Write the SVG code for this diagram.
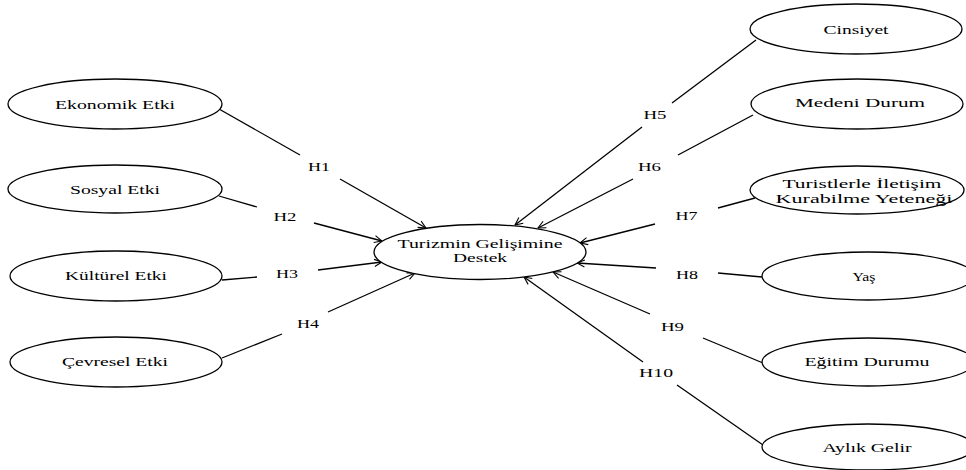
<svg xmlns="http://www.w3.org/2000/svg" width="966" height="470" viewBox="0 0 966 470">
<style>
.n{fill:#fff;stroke:#000;stroke-width:1.3}
.t{font-family:"Liberation Serif","Times New Roman",serif;font-size:13.5px;fill:#000;text-anchor:middle}
.c{stroke:#000;stroke-width:1.3;fill:none}
</style>
<defs>
<marker id="arr" viewBox="0 0 10 10" refX="9.5" refY="5" markerWidth="9" markerHeight="9" orient="auto" markerUnits="userSpaceOnUse">
<path d="M1,1 L9.5,5 L1,9" fill="none" stroke="#000" stroke-width="1.2"/>
</marker>
</defs>
<g id="connectors">
<line class="c" x1="219" y1="109" x2="300" y2="155"/>
<line class="c" x1="340" y1="179" x2="426" y2="228" marker-end="url(#arr)"/>
<line class="c" x1="219" y1="196" x2="257" y2="207"/>
<line class="c" x1="314" y1="223" x2="382" y2="241" marker-end="url(#arr)"/>
<line class="c" x1="222" y1="280" x2="257" y2="277"/>
<line class="c" x1="318" y1="270" x2="382" y2="262" marker-end="url(#arr)"/>
<line class="c" x1="222" y1="358" x2="282" y2="334"/>
<line class="c" x1="328" y1="312" x2="415" y2="273" marker-end="url(#arr)"/>
<line class="c" x1="756" y1="40" x2="672" y2="103"/>
<line class="c" x1="642" y1="127" x2="515" y2="225" marker-end="url(#arr)"/>
<line class="c" x1="753" y1="115" x2="678" y2="155"/>
<line class="c" x1="633" y1="179" x2="538" y2="228" marker-end="url(#arr)"/>
<line class="c" x1="755" y1="198" x2="718" y2="208"/>
<line class="c" x1="655" y1="224" x2="580" y2="243" marker-end="url(#arr)"/>
<line class="c" x1="762" y1="277" x2="718" y2="273"/>
<line class="c" x1="656" y1="268" x2="577" y2="263" marker-end="url(#arr)"/>
<line class="c" x1="763" y1="363" x2="703" y2="338"/>
<line class="c" x1="650" y1="314" x2="553" y2="272" marker-end="url(#arr)"/>
<line class="c" x1="763" y1="445" x2="677" y2="385"/>
<line class="c" x1="643" y1="362" x2="524" y2="277" marker-end="url(#arr)"/>
<text class="t" x="319" y="171" textLength="22" lengthAdjust="spacingAndGlyphs">H1</text>
<text class="t" x="285" y="221" textLength="23" lengthAdjust="spacingAndGlyphs">H2</text>
<text class="t" x="287" y="278" textLength="22" lengthAdjust="spacingAndGlyphs">H3</text>
<text class="t" x="308" y="328" textLength="22" lengthAdjust="spacingAndGlyphs">H4</text>
<text class="t" x="655" y="119" textLength="23" lengthAdjust="spacingAndGlyphs">H5</text>
<text class="t" x="649.5" y="171" textLength="23" lengthAdjust="spacingAndGlyphs">H6</text>
<text class="t" x="686.5" y="220" textLength="22" lengthAdjust="spacingAndGlyphs">H7</text>
<text class="t" x="687" y="279" textLength="22" lengthAdjust="spacingAndGlyphs">H8</text>
<text class="t" x="672.5" y="331" textLength="23" lengthAdjust="spacingAndGlyphs">H9</text>
<text class="t" x="656" y="377" textLength="34" lengthAdjust="spacingAndGlyphs">H10</text>
</g>
<g id="center">
<ellipse class="n" cx="480" cy="252" rx="106" ry="27.5"/>
<text class="t" x="480" y="248" textLength="165" lengthAdjust="spacingAndGlyphs">Turizmin Gelişimine</text>
<text class="t" x="480" y="262" textLength="54" lengthAdjust="spacingAndGlyphs">Destek</text>
</g>
<g id="ekonomik">
<ellipse class="n" cx="115" cy="104" rx="107" ry="25"/>
<text class="t" x="115" y="109" textLength="120" lengthAdjust="spacingAndGlyphs">Ekonomik Etki</text>
</g>
<g id="sosyal">
<ellipse class="n" cx="115" cy="189" rx="107" ry="24"/>
<text class="t" x="115" y="194" textLength="90" lengthAdjust="spacingAndGlyphs">Sosyal Etki</text>
</g>
<g id="kulturel">
<ellipse class="n" cx="116" cy="276" rx="106" ry="25"/>
<text class="t" x="116" y="280" textLength="102" lengthAdjust="spacingAndGlyphs">Kültürel Etki</text>
</g>
<g id="cevresel">
<ellipse class="n" cx="116" cy="362" rx="106" ry="25"/>
<text class="t" x="115" y="366" textLength="106" lengthAdjust="spacingAndGlyphs">Çevresel Etki</text>
</g>
<g id="cinsiyet">
<ellipse class="n" cx="856" cy="29" rx="106" ry="25"/>
<text class="t" x="856" y="34" textLength="65" lengthAdjust="spacingAndGlyphs">Cinsiyet</text>
</g>
<g id="medeni">
<ellipse class="n" cx="857" cy="104" rx="106" ry="25"/>
<text class="t" x="860" y="107" textLength="130" lengthAdjust="spacingAndGlyphs">Medeni Durum</text>
</g>
<g id="turistlerle">
<ellipse class="n" cx="857" cy="190" rx="107" ry="24"/>
<text class="t" x="862" y="188" textLength="159" lengthAdjust="spacingAndGlyphs">Turistlerle İletişim</text>
<text class="t" x="864" y="203" textLength="177" lengthAdjust="spacingAndGlyphs">Kurabilme Yeteneği</text>
</g>
<g id="yas">
<ellipse class="n" cx="868" cy="276" rx="106" ry="24"/>
<text class="t" x="864" y="281" textLength="23" lengthAdjust="spacingAndGlyphs">Yaş</text>
</g>
<g id="egitim">
<ellipse class="n" cx="868" cy="362" rx="106" ry="24"/>
<text class="t" x="867" y="366" textLength="125" lengthAdjust="spacingAndGlyphs">Eğitim Durumu</text>
</g>
<g id="aylik">
<ellipse class="n" cx="868" cy="447" rx="106" ry="23"/>
<text class="t" x="867" y="452" textLength="89" lengthAdjust="spacingAndGlyphs">Aylık Gelir</text>
</g>
</svg>
